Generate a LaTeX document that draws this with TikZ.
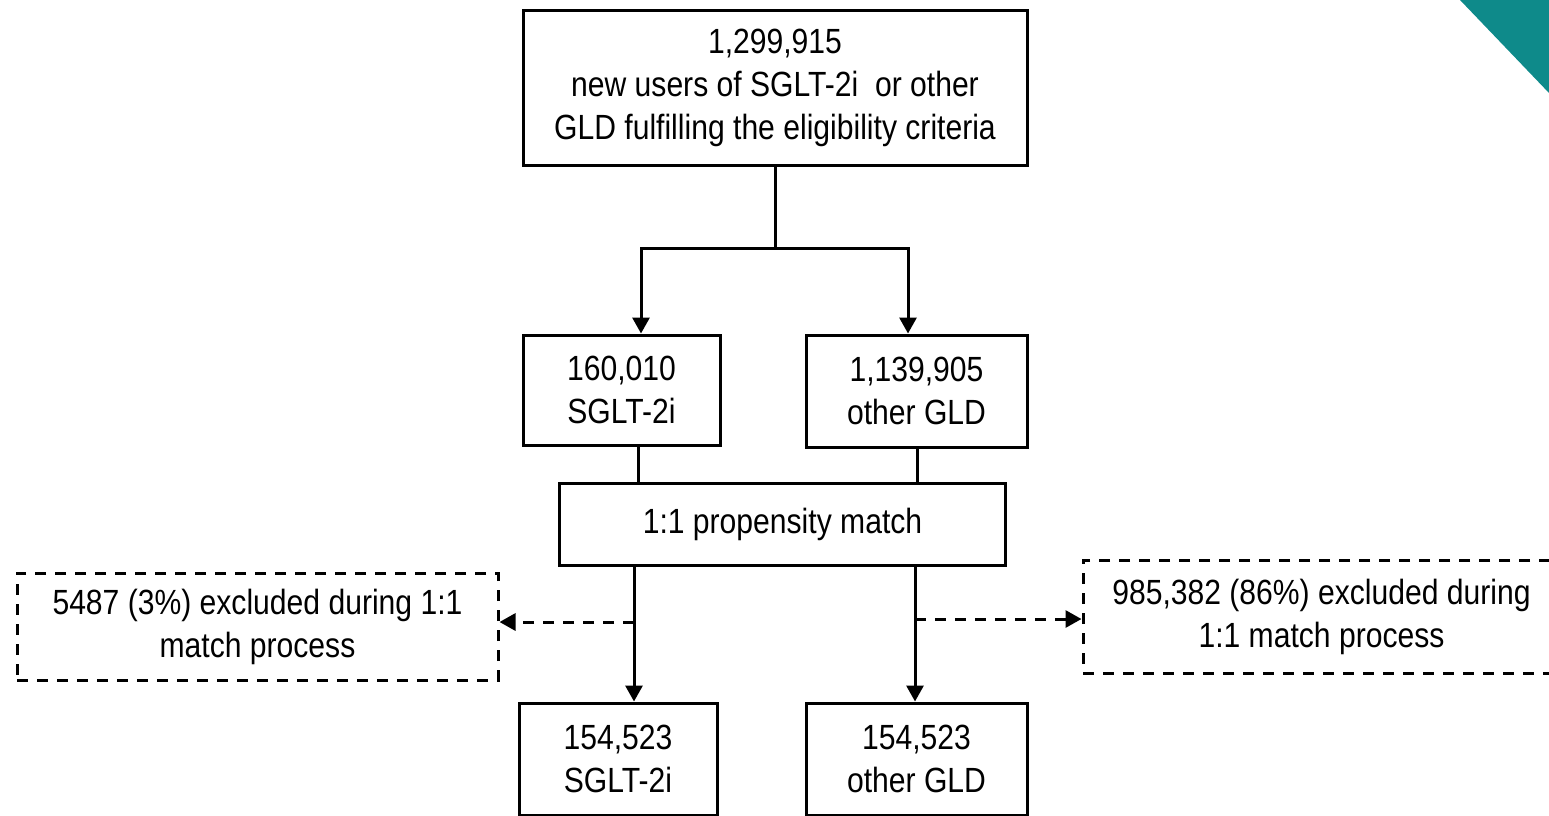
\documentclass[tikz,border=0pt]{standalone}
\usepackage{fontspec}
\setmainfont[FakeStretch=0.86]{Liberation Sans}
\usetikzlibrary{arrows.meta}
\definecolor{tealc}{HTML}{0E8A8A}
\begin{document}
\begin{tikzpicture}[x=1pt,y=-1pt,
  box/.style={draw,line width=3pt,align=center,inner sep=0pt,font=\fontsize{35}{43}\selectfont},
  dbox/.style={box,dash pattern=on 11pt off 9pt},
  conn/.style={line width=3pt},
  arr/.style={conn,-{Triangle[length=16pt,width=17pt]}},
  darr/.style={arr,dash pattern=on 11pt off 9pt}]
\useasboundingbox (0,0) rectangle (1549,815);
\fill[tealc] (1460,0) -- (1549,0) -- (1549,93) -- cycle;
\node[box,minimum width=504pt,minimum height=155pt] (top) at (775,88)
  {1,299,915\\new users of SGLT-2i\ \ or other\\GLD fulfilling the eligibility criteria};
\node[box,minimum width=197pt,minimum height=110pt] (s1) at (621.5,390) {160,010\\SGLT-2i};
\node[box,minimum width=221pt,minimum height=112pt] (o1) at (916.5,391) {1,139,905\\other GLD};
\node[box,minimum width=446pt,minimum height=82pt] (pm) at (782.5,524.5) {1:1 propensity match};
\node[dbox,minimum width=481pt,minimum height=107pt] (ex1) at (257.5,626.5) {5487 (3\%) excluded during 1:1\\match process};
\node[dbox,minimum width=477pt,minimum height=113pt] (ex2) at (1321.5,616.5) {985,382 (86\%) excluded during\\1:1 match process};
\node[box,minimum width=198pt,minimum height=112pt] (s2) at (618,759) {154,523\\SGLT-2i};
\node[box,minimum width=221pt,minimum height=112pt] (o2) at (916.5,759) {154,523\\other GLD};
\coordinate (split) at (775,248);
\draw[conn] (top.south) -- (split);
\draw[arr] (split) -| (s1.north -| 641,0);
\draw[arr] (split) -| (o1.north -| 908,0);
\draw[conn] (s1.south -| 638,0) -- (pm.north -| 638,0);
\draw[conn] (o1.south -| 917,0) -- (pm.north -| 917,0);
\draw[arr] (pm.south -| 634,0) -- (s2.north -| 634,0);
\draw[arr] (pm.south -| 915,0) -- (o2.north -| 915,0);
\draw[darr] (634,622) -- (ex1.east |- 0,622);
\draw[darr] (915,619) -- (ex2.west |- 0,619);
\end{tikzpicture}
\end{document}
